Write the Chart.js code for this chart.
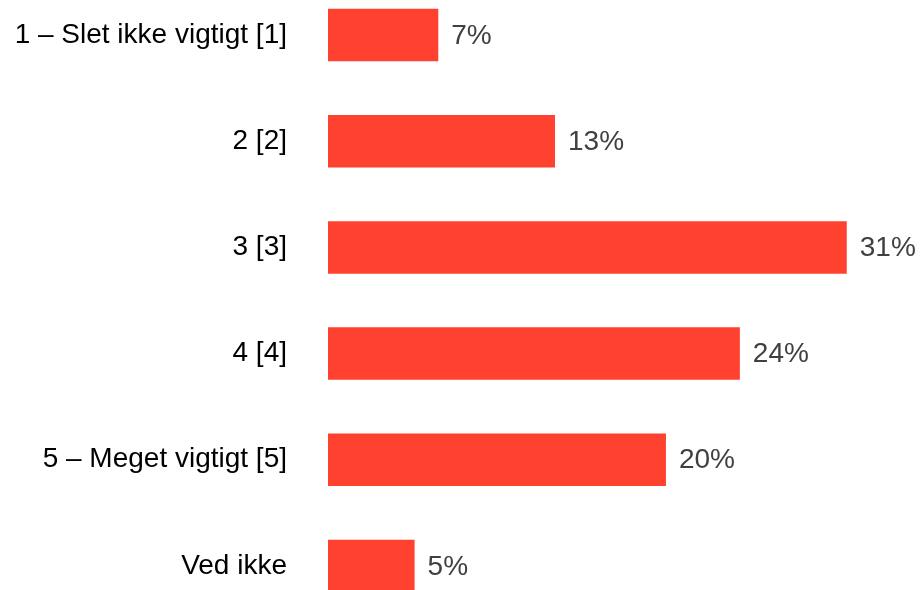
<!DOCTYPE html>
<html>
<head>
<meta charset="utf-8">
<script src="https://cdn.jsdelivr.net/npm/chart.js@4"></script>
<style>
html,body{margin:0;padding:0;background:#fff;overflow:hidden;width:922px;height:590px;}
#c{position:absolute;left:0;top:-18px;width:922px;height:637px;}
</style>
</head>
<body>
<canvas id="c" width="922" height="637"></canvas>
<script>
const categories = ["1 – Slet ikke vigtigt [1]", "2 [2]", "3 [3]", "4 [4]", "5 – Meget vigtigt [5]", "Ved ikke"];
const values = [6.52, 13.42, 30.67, 24.35, 19.98, 5.12];
const valueLabels = ["7%", "13%", "31%", "24%", "20%", "5%"];

const FONT = "'Liberation Sans', Arial, sans-serif";

const labelPlugin = {
  id: 'valueLabels',
  afterDatasetsDraw(chart) {
    const ctx = chart.ctx;
    const meta = chart.getDatasetMeta(0);
    ctx.save();
    ctx.font = "28px " + FONT;
    ctx.fillStyle = "#404040";
    ctx.textAlign = "left";
    ctx.textBaseline = "middle";
    meta.data.forEach((bar, i) => {
      ctx.fillText(valueLabels[i], bar.x + 13, bar.y + 1);
    });
    ctx.restore();
  }
};

new Chart(document.getElementById('c'), {
  type: 'bar',
  data: {
    labels: categories,
    datasets: [{
      data: values,
      backgroundColor: '#FF4130',
      borderWidth: 0,
      categoryPercentage: 1,
      barPercentage: 0.495
    }]
  },
  options: {
    indexAxis: 'y',
    responsive: false,
    maintainAspectRatio: false,
    devicePixelRatio: 1,
    animation: false,
    layout: { padding: { left: 0, right: 2, top: 0, bottom: 0 } },
    plugins: { legend: { display: false }, tooltip: { enabled: false } },
    scales: {
      x: {
        display: false,
        min: 0,
        max: 35
      },
      y: {
        grid: { display: false, drawTicks: false },
        border: { display: false },
        ticks: {
          color: '#000',
          padding: 41,
          font: { family: FONT, size: 28 }
        },
        afterFit(scale) {
          scale.width = 328;
          scale.paddingTop = 0;
          scale.paddingBottom = 0;
        }
      }
    }
  },
  plugins: [labelPlugin]
});
</script>
</body>
</html>
